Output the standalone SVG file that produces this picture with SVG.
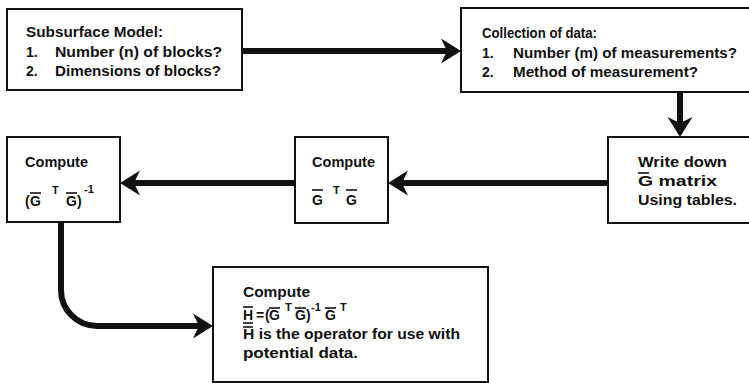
<svg xmlns="http://www.w3.org/2000/svg" width="749" height="383" viewBox="0 0 749 383">
<style>
.box{fill:#fff;stroke:#111;stroke-width:2}
.t{font-family:"Liberation Sans",Arial,sans-serif;font-weight:bold;font-size:14px;fill:#111}
.s{font-family:"Liberation Sans",Arial,sans-serif;font-weight:bold;font-size:11px;fill:#111}
.bar{stroke:#111;stroke-width:1.6;fill:none}
.conn{stroke:#111;stroke-width:6;fill:none}
</style>
<defs>
<marker id="ah" markerUnits="userSpaceOnUse" viewBox="-21 -13 22 26" refX="-14" refY="0" markerWidth="22" markerHeight="26" orient="auto">
<path d="M0,0 L-20,-12.5 L-14,0 L-20,12.5 Z" fill="#111"/>
</marker>
</defs>
<rect width="749" height="383" fill="#fff"/>
<g id="connectors">
<path class="conn" d="M242,51 H447" marker-end="url(#ah)"/>
<path class="conn" d="M680,93 V123" marker-end="url(#ah)"/>
<path class="conn" d="M608,183 H402" marker-end="url(#ah)"/>
<path class="conn" d="M295,183 H134" marker-end="url(#ah)"/>
<path class="conn" d="M61,223 V290 A36,36 0 0 0 97,326 H199" marker-end="url(#ah)"/>
</g>
<g id="node-subsurface">
<rect class="box" x="7" y="9" width="235" height="81"/>
<text class="t" x="26" y="37" textLength="137" lengthAdjust="spacingAndGlyphs">Subsurface Model:</text>
<text class="t" x="26" y="57">1.</text>
<text class="t" x="55" y="57" textLength="167" lengthAdjust="spacingAndGlyphs">Number (n) of blocks?</text>
<text class="t" x="26" y="76">2.</text>
<text class="t" x="55" y="76" textLength="166" lengthAdjust="spacingAndGlyphs">Dimensions of blocks?</text>
</g>
<g id="node-collection">
<rect class="box" x="461" y="8" width="295" height="84"/>
<text class="t" x="482" y="38" textLength="115" lengthAdjust="spacingAndGlyphs">Collection of data:</text>
<text class="t" x="482" y="58">1.</text>
<text class="t" x="513" y="58" textLength="224" lengthAdjust="spacingAndGlyphs">Number (m) of measurements?</text>
<text class="t" x="482" y="77">2.</text>
<text class="t" x="513" y="77" textLength="185" lengthAdjust="spacingAndGlyphs">Method of measurement?</text>
</g>
<g id="node-writedown">
<rect class="box" x="608" y="137" width="150" height="86"/>
<text class="t" x="638" y="167" textLength="89" lengthAdjust="spacingAndGlyphs">Write down</text>
<text class="t" x="638" y="186" textLength="79" lengthAdjust="spacingAndGlyphs">G matrix</text>
<path class="bar" d="M638,173 H649"/>
<text class="t" x="638" y="205" textLength="99" lengthAdjust="spacingAndGlyphs">Using tables.</text>
</g>
<g id="node-gtg">
<rect class="box" x="295" y="137" width="93" height="86"/>
<text class="t" x="312" y="167" textLength="63" lengthAdjust="spacingAndGlyphs">Compute</text>
<text class="t" x="312" y="205">G</text>
<path class="bar" d="M312,190 H323"/>
<text class="s" x="333" y="194">T</text>
<text class="t" x="346" y="205">G</text>
<path class="bar" d="M346,190 H357"/>
</g>
<g id="node-inverse">
<rect class="box" x="7" y="137" width="113" height="85"/>
<text class="t" x="25" y="167" textLength="63" lengthAdjust="spacingAndGlyphs">Compute</text>
<text class="t" x="25" y="206">(</text>
<text class="t" x="30" y="206">G</text>
<path class="bar" d="M30,193 H41"/>
<text class="s" x="52" y="194">T</text>
<text class="t" x="66" y="206">G</text>
<path class="bar" d="M66,193 H77"/>
<text class="t" x="77" y="206">)</text>
<text class="s" x="84" y="193">-1</text>
</g>
<g id="node-h">
<rect class="box" x="213" y="267" width="275" height="115"/>
<text class="t" x="243" y="297" textLength="67" lengthAdjust="spacingAndGlyphs">Compute</text>
<text class="t" x="243" y="320">H</text>
<path class="bar" d="M243,307 H253"/>
<path class="bar" d="M243,323 H253"/>
<text class="t" x="256" y="320">=</text>
<text class="t" x="265" y="320">(</text>
<text class="t" x="269" y="320">G</text>
<path class="bar" d="M269,308 H280"/>
<text class="s" x="285" y="311">T</text>
<text class="t" x="295" y="320">G</text>
<path class="bar" d="M295,308 H306"/>
<text class="t" x="306" y="320">)</text>
<text class="s" x="311" y="311">-1</text>
<text class="t" x="325" y="320">G</text>
<path class="bar" d="M325,308 H336"/>
<text class="s" x="340" y="311">T</text>
<text class="t" x="243" y="339" textLength="217" lengthAdjust="spacingAndGlyphs">H is the operator for use with</text>
<path class="bar" d="M243,327 H253"/>
<text class="t" x="243" y="358" textLength="115" lengthAdjust="spacingAndGlyphs">potential data.</text>
</g>
</svg>
